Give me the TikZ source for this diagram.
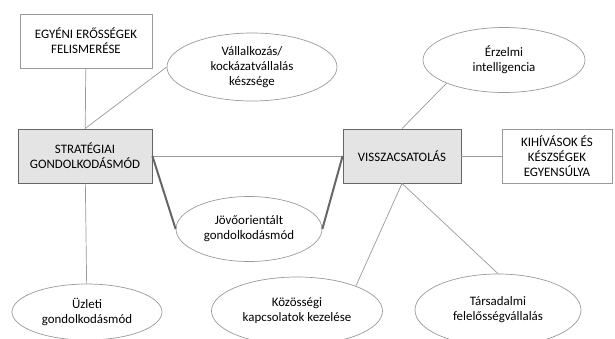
\documentclass[tikz,border=0pt]{standalone}
\usepackage{fontspec}
\setmainfont{Carlito}
\usepackage{xcolor}
\usetikzlibrary{shapes.geometric}
\definecolor{edgegray}{HTML}{9A9A9A}
\definecolor{boxgray}{HTML}{E4E4E4}
\definecolor{linkdark}{HTML}{666666}
\tikzset{
  mapbox/.style={draw=edgegray, line width=0.8pt, fill=white, align=center,
                 font=\fontsize{12.9}{15}\selectfont, inner sep=2pt},
  corebox/.style={mapbox, draw=gray!80!black, fill=boxgray},
  skill/.style={draw=edgegray, line width=0.7pt, ellipse, fill=white, align=center,
                font=\fontsize{12.9}{15}\selectfont, inner sep=0pt},
  link/.style={draw=edgegray, line width=0.7pt},
  strongLink/.style={draw=linkdark, line width=2pt}
}

\begin{document}
\begin{tikzpicture}[x=1pt, y=-1pt]
\useasboundingbox (0,0) rectangle (615,338);

% Core boxes
\node[corebox, minimum width=134pt, minimum height=54pt] (strat) at (85,156) {STRATÉGIAI\\GONDOLKODÁSMÓD};
\node[corebox, minimum width=118pt, minimum height=54pt] (vissza) at (402,156) {VISSZACSATOLÁS};

% Outer boxes
\node[mapbox, minimum width=132pt, minimum height=54pt] (egyeni) at (86,41) {EGYÉNI ERŐSSÉGEK\\FELISMERÉSE};
\node[mapbox, minimum width=110pt, minimum height=54pt] (kihiv) at (557,156) {KIHÍVÁSOK ÉS\\KÉSZSÉGEK\\EGYENSÚLYA};

% Ellipses
\node[skill, minimum width=170pt, minimum height=68pt] (vallal) at (252,67) {Vállalkozás/\\kockázatvállalás\\készsége};
\node[skill, minimum width=162pt, minimum height=65pt] (erzelmi) at (504,60) {Érzelmi\\intelligencia};
\node[skill, minimum width=146pt, minimum height=65pt] (jovo) at (249,229) {Jövőorientált\\gondolkodásmód};
\node[skill, minimum width=150pt, minimum height=56pt] (uzleti) at (87,312) {Üzleti\\gondolkodásmód};
\node[skill, minimum width=171pt, minimum height=68pt] (kozos) at (297,311) {Közösségi\\kapcsolatok kezelése};
\node[skill, minimum width=166pt, minimum height=72pt] (tars) at (498,310) {Társadalmi\\felelősségvállalás};

% Thin links
\draw[link] (egyeni) -- (strat);
\draw[link] (strat.north) -- (vallal.west);
\draw[link] (strat) -- (uzleti);
\draw[link] (strat) -- (vissza);
\draw[link] (vissza) -- (kihiv);
\draw[link] (vissza.north) -- (erzelmi.202);
\draw[link] (vissza.south) -- (kozos.23);
\draw[link] (vissza.south) -- (tars.north);

% Thick links
\draw[strongLink] (strat.east) -- (jovo.west);
\draw[strongLink] (vissza.west) -- (jovo.east);

\end{tikzpicture}
\end{document}
